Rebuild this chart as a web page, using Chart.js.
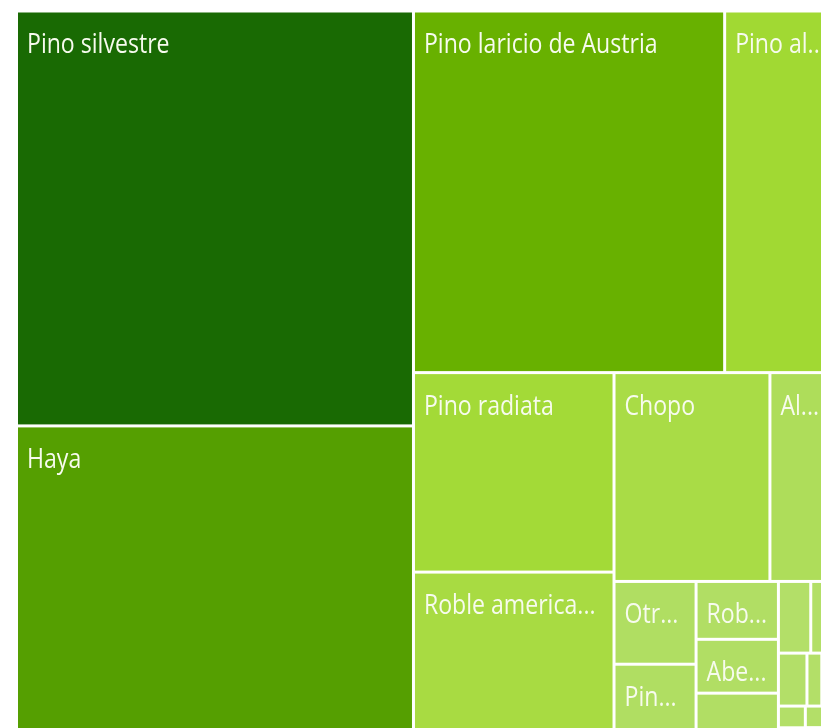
<!DOCTYPE html>
<html>
<head>
<meta charset="utf-8">
<script src="https://cdn.jsdelivr.net/npm/chart.js@4.4.1/dist/chart.umd.min.js"></script>
<style>
  html, body { margin: 0; padding: 0; background: #ffffff; overflow: hidden; }
  canvas { display: block; }
</style>
</head>
<body>
<canvas id="c" width="840" height="750"></canvas>
<script>
// ---- Data ----
const species = [
  "Pino silvestre", "Haya", "Pino laricio de Austria", "Pino al...",
  "Pino radiata", "Roble americano", "Chopo", "Al...",
  "Otr...", "Pin...", "Rob...", "Abe...", "",
  "", "", "", "", "", "", "", "", "", "", ""
];
const values = [
  16346, 12630, 11167, 3978,
  3970, 3471, 3231, 1359,
  674, 670, 473, 440, 436,
  230, 176, 150, 78, 72, 58, 50, 40, 35, 25, 21
];
// ---- Styles ----
const colors = [
  "#196a03", "#559f01", "#68b100", "#a1d933",
  "#a3da37", "#a8db42", "#a9dc46", "#aedd5a",
  "#b0de62", "#b0de62", "#b1de64", "#b1de64", "#b1de64",
  "#b3df68", "#b3df68", "#b3df68", "#b3df68", "#b3df68", "#b3df68",
  "#b3df68", "#b3df68", "#b3df68", "#b3df68", "#b3df68"
];

// Squarified layout (golden-ratio squarify) computed in the axes' data units
function squarify(vals, x0, y0, x1, y1, ratio) {
  const order = vals.map((v, i) => i).sort((a, b) => vals[b] - vals[a]);
  const nodes = order.map(i => ({ i, v: vals[i] }));
  let value = nodes.reduce((s, n) => s + n.v, 0);
  const out = [];
  let i0 = 0;
  const n = nodes.length;
  while (i0 < n) {
    const dx = x1 - x0, dy = y1 - y0;
    let i1 = i0;
    let sumV = nodes[i1++].v;
    let minV = sumV, maxV = sumV;
    const alpha = Math.max(dy / dx, dx / dy) / (value * ratio);
    let beta = sumV * sumV * alpha;
    let minRatio = Math.max(maxV / beta, beta / minV);
    for (; i1 < n; ++i1) {
      const nv = nodes[i1].v;
      sumV += nv;
      if (nv < minV) minV = nv;
      if (nv > maxV) maxV = nv;
      beta = sumV * sumV * alpha;
      const newRatio = Math.max(maxV / beta, beta / minV);
      if (newRatio > minRatio) { sumV -= nv; break; }
      minRatio = newRatio;
    }
    const row = nodes.slice(i0, i1);
    if (dx < dy) {
      const h = dy * sumV / value;
      let x = x0;
      row.forEach(nd => {
        const w = dx * nd.v / sumV;
        out.push({ i: nd.i, x0: x, y0: y0, x1: x + w, y1: y0 + h });
        x += w;
      });
      y0 += h;
    } else {
      const w = dx * sumV / value;
      let y = y0;
      row.forEach(nd => {
        const h = dy * nd.v / sumV;
        out.push({ i: nd.i, x0: x0, y0: y, x1: x0 + w, y1: y + h });
        y += h;
      });
      x0 += w;
    }
    value -= sumV;
    i0 = i1;
  }
  return out;
}

const X_MAX = 1000, Y_MAX = 600;
const cells = squarify(values, 0, 0, X_MAX, Y_MAX, (1 + Math.sqrt(5)) / 2);

const GAP = 1.5, PAD_L = 9, PAD_R = 12, FONT_PX = 27, SQUEEZE = 0.855, BASE = 40.5;

function fitLabel(ctx, text, cellW) {
  const w = t => ctx.measureText(t).width * SQUEEZE;
  if (!text) return "";
  // names that are already shortened are shown as they are when they fit
  if (/\.\.\.$/.test(text)) return (w(text) <= cellW - PAD_L - 2) ? text : "";
  const maxW = cellW - PAD_L - PAD_R;
  if (w(text) <= maxW) return text;
  for (let k = text.length - 1; k >= 1; k--) {
    const t = text.slice(0, k).replace(/\s+$/, "") + "...";
    if (w(t) <= maxW) return t;
  }
  return "";
}

const treemapPlugin = {
  id: "treemapCells",
  afterDatasetsDraw(chart) {
    const { ctx } = chart;
    const xs = chart.scales.x, ys = chart.scales.y;
    ctx.save();
    cells.forEach(c => {
      const px0 = xs.getPixelForValue(c.x0) + GAP;
      const px1 = xs.getPixelForValue(c.x1) - GAP;
      const py0 = ys.getPixelForValue(c.y0) + GAP;
      const py1 = ys.getPixelForValue(c.y1) - GAP;
      ctx.fillStyle = colors[c.i];
      ctx.fillRect(px0, py0, px1 - px0, py1 - py0);
    });
    ctx.font = FONT_PX + "px 'Open Sans', 'Noto Sans', sans-serif";
    ctx.textBaseline = "alphabetic";
    ctx.fillStyle = "#f7fbee";
    cells.forEach(c => {
      const px0 = xs.getPixelForValue(c.x0) + GAP;
      const px1 = xs.getPixelForValue(c.x1) - GAP;
      const py0 = ys.getPixelForValue(c.y0) + GAP;
      const py1 = ys.getPixelForValue(c.y1) - GAP;
      if (py1 - py0 < 50) return;
      const label = fitLabel(ctx, species[c.i], px1 - px0);
      if (!label) return;
      ctx.save();
      ctx.beginPath();
      ctx.rect(px0, py0, px1 - px0, py1 - py0);
      ctx.clip();
      ctx.translate(px0 + PAD_L, py0 + BASE);
      ctx.scale(SQUEEZE, 1);
      ctx.fillText(label, 0, 0);
      ctx.restore();
    });
    ctx.restore();
  }
};

new Chart(document.getElementById("c"), {
  type: "scatter",
  data: { datasets: [{ data: [], pointRadius: 0 }] },
  options: {
    responsive: false,
    animation: false,
    layout: { padding: { left: 16.5, top: 11, right: 4.5, bottom: 3.5 } },
    scales: {
      x: { type: "linear", min: 0, max: X_MAX, display: false },
      y: { type: "linear", min: 0, max: Y_MAX, reverse: true, display: false }
    },
    plugins: { legend: { display: false }, tooltip: { enabled: false } }
  },
  plugins: [treemapPlugin]
});
</script>
</body>
</html>
